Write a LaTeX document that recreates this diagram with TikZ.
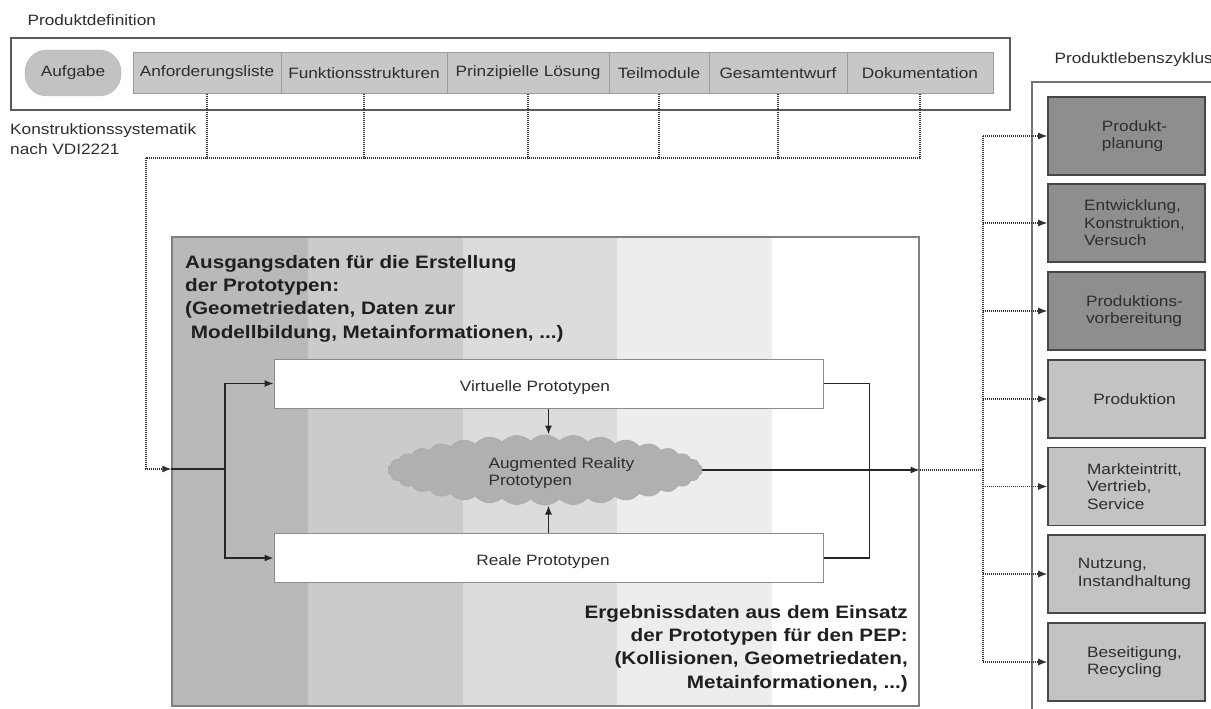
\documentclass[tikz,border=0pt]{standalone}
\usepackage{fontspec}
\setmainfont[FakeStretch=1.15]{Liberation Sans}
\usetikzlibrary{shapes.symbols,arrows.meta,calc}

\definecolor{framegray}{HTML}{5A5A5A}
\definecolor{cellfill}{HTML}{C7C7C7}
\definecolor{cellline}{HTML}{9C9C9C}
\definecolor{darkbox}{HTML}{8E8E8E}
\definecolor{lightbox}{HTML}{C3C3C3}
\definecolor{bandA}{HTML}{B9B9B9}
\definecolor{bandB}{HTML}{CBCBCB}
\definecolor{bandC}{HTML}{DCDCDC}
\definecolor{bandD}{HTML}{EDEDED}
\definecolor{txt}{HTML}{2E2E2E}

\tikzset{
  regtext/.style={font=\fontsize{15}{17.5}\selectfont, text=txt},
  boldtext/.style={font=\fontsize{18}{23.3}\selectfont\bfseries, text=black!88, inner sep=0pt},
  stepcell/.style={draw=cellline, fill=cellfill, line width=0.8pt, minimum height=41pt, inner sep=0pt, regtext},
  lcbox/.style={draw=black!72, line width=1.6pt, minimum width=157pt, minimum height=78pt, inner sep=0pt},
  lctext/.style={regtext, align=left, xshift=8pt},
  protobox/.style={draw=black!45, fill=white, line width=1pt, minimum width=549pt, minimum height=49pt, inner sep=0pt},
  dotline/.style={draw=black!80, line width=1.1pt, dash pattern=on 1pt off 1pt},
  conn/.style={draw=black!85, line width=1.3pt},
  tip/.style={-{Latex[length=9pt,width=7pt]}},
}

\begin{document}
\begin{tikzpicture}[x=1pt,y=-1pt]
\useasboundingbox (0,0) rectangle (1211,709);
\fill[white] (0,0) rectangle (1211,709);

% ---------- product definition (VDI 2221) ----------
\node[regtext, anchor=west] (pdtitle) at (24,20) {Produktdefinition};
\node[draw=framegray, line width=2pt, minimum width=999pt, minimum height=72pt] (pdframe) at (510.5,74) {};
\node[draw=black!30, fill=black!24, rounded corners=22pt, minimum width=96pt, minimum height=46pt, regtext] (task) at (73,73) {Aufgabe};
\node[stepcell, minimum width=148pt] (anf) at (207,73) {Anforderungsliste};
\node[stepcell, minimum width=166pt] (fkt) at (364,73) {Funktionsstrukturen};
\node[stepcell, minimum width=162pt] (prz) at (528,73) {Prinzipielle Lösung};
\node[stepcell, minimum width=100pt] (tlm) at (659,73) {Teilmodule};
\node[stepcell, minimum width=138pt] (gse) at (778,73) {Gesamtentwurf};
\node[stepcell, minimum width=146pt] (dok) at (920,73) {Dokumentation};
\node[regtext, anchor=north west, align=left, inner sep=0pt, font=\fontsize{15}{20}\selectfont] (vdi) at (10,123) {Konstruktionssystematik\\nach VDI2221};

% dotted collector below the design steps
\coordinate (busL) at (146,158);
\draw[dotline] (dok.south) |- (busL);
\foreach \s in {anf,fkt,prz,tlm,gse} \draw[dotline] (\s.south) -- (\s.south |- busL);

% ---------- prototype area ----------
\fill[bandA] (172,237) rectangle (308,706);
\fill[bandB] (308,237) rectangle (463,706);
\fill[bandC] (463,237) rectangle (617,706);
\fill[bandD] (617,237) rectangle (772,706);
\node[draw=black!50, line width=1.2pt, minimum width=747pt, minimum height=469pt] (mainbox) at (545.5,471.5) {};

\node[boldtext, anchor=north west, align=left] (intext) at (185,255)
  {Ausgangsdaten für die Erstellung\\der Prototypen:\\(Geometriedaten, Daten zur\\\ Modellbildung, Metainformationen, ...)};
\node[boldtext, anchor=north east, align=right] (outtext) at (908,605)
  {Ergebnissdaten aus dem Einsatz\\der Prototypen für den PEP:\\(Kollisionen, Geometriedaten,\\Metainformationen, ...)};

\node[protobox] (virt) at (548.5,383.5) {};
\node[regtext] (virtlabel) at (535,388) {Virtuelle Prototypen};
\node[protobox] (real) at (548.5,558) {};
\node[regtext] (reallabel) at (543,562) {Reale Prototypen};

\node[cloud, cloud puffs=34, cloud puff arc=95, aspect=4.4, draw=black!32, line width=1pt, fill=black!31,
      minimum width=314pt, minimum height=70pt, inner sep=0pt] (arcloud) at (545,470) {};
\node[regtext, align=left, anchor=west] (arlabel) at (485,473) {Augmented Reality\\Prototypen};

\coordinate (inport) at (mainbox.west |- 0,469);
\coordinate (split) at (225,469);
\draw[dotline, tip] (busL) |- (inport);
\draw[conn] (inport) -- (split);
\draw[conn, tip] (split) |- (virt.west);
\draw[conn, tip] (split) |- (real.west);
\draw[conn] (virt.east) -- ++(46,0) |- (real.east);
\draw[conn, tip] (virt.south) -- (virt.south |- arcloud.north);
\draw[conn, tip] (real.north) -- (real.north |- arcloud.south);
\coordinate (outport) at (arcloud.east -| mainbox.east);
\draw[conn, tip] (arcloud.east) -- (outport);

% ---------- product life cycle ----------
\node[regtext, anchor=west] (lctitle) at (1051,60) {Produktlebenszyklus};
\draw[black!55, line width=1.5pt] (1220,82) -- (1032,82) -- (1032,720);

\node[lcbox, fill=darkbox, label={[lctext]center:Produkt-\\planung}] (lc1) at (1126.5,136) {};
\node[lcbox, fill=darkbox, label={[lctext]center:Entwicklung,\\Konstruktion,\\Versuch}] (lc2) at (1126.5,223) {};
\node[lcbox, fill=darkbox, label={[lctext]center:Produktions-\\vorbereitung}] (lc3) at (1126.5,311) {};
\node[lcbox, fill=lightbox, label={[lctext]center:Produktion}] (lc4) at (1126.5,399) {};
\node[lcbox, fill=lightbox, label={[lctext]center:Markteintritt,\\Vertrieb,\\Service}] (lc5) at (1126.5,486.5) {};
\node[lcbox, fill=lightbox, label={[lctext]center:Nutzung,\\Instandhaltung}] (lc6) at (1126.5,574) {};
\node[lcbox, fill=lightbox, label={[lctext]center:Beseitigung,\\Recycling}] (lc7) at (1126.5,662) {};

\coordinate (lcbus) at (983,0);
\draw[dotline] (outport) -- (outport -| lcbus);
\draw[dotline] (lc1.west -| lcbus) -- (lc7.west -| lcbus);
\foreach \b in {lc1,lc2,lc3,lc4,lc5,lc6,lc7}
  \draw[dotline, tip] (\b.west -| lcbus) -- (\b.west);
\end{tikzpicture}
\end{document}
